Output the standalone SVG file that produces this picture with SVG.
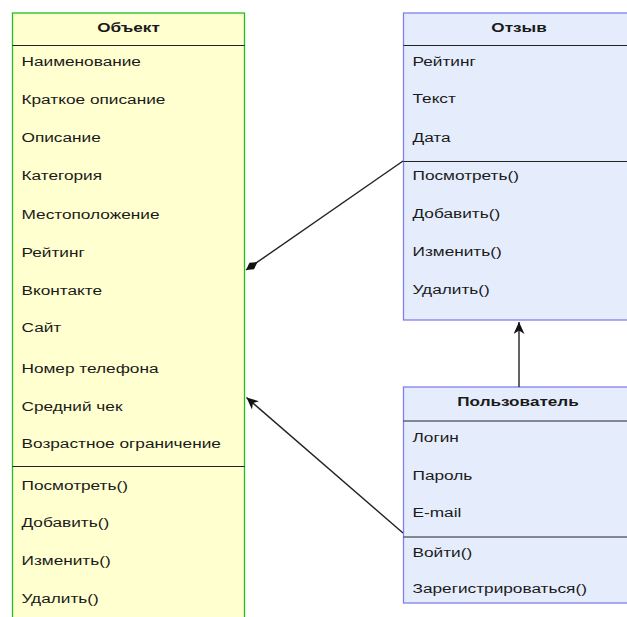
<svg xmlns="http://www.w3.org/2000/svg" width="627" height="617" viewBox="0 0 627 617">
<style>
.t{font-family:"Liberation Sans",Arial,sans-serif;font-size:12.5px;fill:#1a1a1a}
.h{font-weight:bold;text-anchor:middle}
.yl{fill:#FFFFCF;stroke:#1FBF1F;stroke-width:1.3}
.bl{fill:#E5EDFC;stroke:#8080EC;stroke-width:1.3}
.sep{stroke:#222;stroke-width:1.2}
.c{stroke:#222;stroke-width:1.4;fill:none}
</style>
<defs>
<marker id="arr" markerWidth="13" markerHeight="11" viewBox="0 0 13 11" refX="12" refY="5.5" orient="auto" markerUnits="userSpaceOnUse">
<path d="M0,0 L12,5.5 L0,11 L3.5,5.5 z" fill="#111"/>
</marker>
<marker id="dia" markerWidth="16" markerHeight="10" viewBox="0 0 16 10" refX="15" refY="5" orient="auto" markerUnits="userSpaceOnUse">
<path d="M1,5 L8,1 L15,5 L8,9 z" fill="#111"/>
</marker>
</defs>
<rect width="627" height="617" fill="#fff"/>
<g id="obj">
<rect class="yl" x="12.5" y="13" width="232" height="620"/>
<line class="sep" x1="12.5" y1="45.5" x2="244.5" y2="45.5"/>
<line class="sep" x1="12.5" y1="466.5" x2="244.5" y2="466.5"/>
<text class="t h" transform="matrix(1.37 0 0 1 128.5 31.7)">Объект</text>
<text class="t" transform="matrix(1.38 0 0 1 21.5 66)">Наименование</text>
<text class="t" transform="matrix(1.38 0 0 1 21.5 103.5)">Краткое описание</text>
<text class="t" transform="matrix(1.38 0 0 1 21.5 141.5)">Описание</text>
<text class="t" transform="matrix(1.38 0 0 1 21.5 180)">Категория</text>
<text class="t" transform="matrix(1.38 0 0 1 21.5 218.5)">Местоположение</text>
<text class="t" transform="matrix(1.38 0 0 1 21.5 256.5)">Рейтинг</text>
<text class="t" transform="matrix(1.38 0 0 1 21.5 294.5)">Вконтакте</text>
<text class="t" transform="matrix(1.38 0 0 1 21.5 332)">Сайт</text>
<text class="t" transform="matrix(1.38 0 0 1 21.5 372.5)">Номер телефона</text>
<text class="t" transform="matrix(1.38 0 0 1 21.5 410.5)">Средний чек</text>
<text class="t" transform="matrix(1.38 0 0 1 21.5 447.5)">Возрастное ограничение</text>
<text class="t" transform="matrix(1.38 0 0 1 21.5 489.5)">Посмотреть()</text>
<text class="t" transform="matrix(1.38 0 0 1 21.5 527)">Добавить()</text>
<text class="t" transform="matrix(1.38 0 0 1 21.5 565)">Изменить()</text>
<text class="t" transform="matrix(1.38 0 0 1 21.5 603)">Удалить()</text>
</g>
<g id="otz">
<rect class="bl" x="403.5" y="13" width="231" height="307"/>
<line class="sep" x1="403.5" y1="45.5" x2="634.5" y2="45.5"/>
<line class="sep" x1="403.5" y1="161.5" x2="634.5" y2="161.5"/>
<text class="t h" transform="matrix(1.37 0 0 1 519 32)">Отзыв</text>
<text class="t" transform="matrix(1.38 0 0 1 412.5 65.5)">Рейтинг</text>
<text class="t" transform="matrix(1.38 0 0 1 412.5 103)">Текст</text>
<text class="t" transform="matrix(1.38 0 0 1 412.5 141.5)">Дата</text>
<text class="t" transform="matrix(1.38 0 0 1 412.5 180)">Посмотреть()</text>
<text class="t" transform="matrix(1.38 0 0 1 412.5 218)">Добавить()</text>
<text class="t" transform="matrix(1.38 0 0 1 412.5 256)">Изменить()</text>
<text class="t" transform="matrix(1.38 0 0 1 412.5 294)">Удалить()</text>
</g>
<g id="pol">
<rect class="bl" x="403.5" y="387" width="231" height="216"/>
<line class="sep" x1="403.5" y1="421" x2="634.5" y2="421"/>
<line class="sep" x1="403.5" y1="537" x2="634.5" y2="537"/>
<text class="t h" transform="matrix(1.37 0 0 1 518 405.7)">Пользователь</text>
<text class="t" transform="matrix(1.38 0 0 1 412.5 442)">Логин</text>
<text class="t" transform="matrix(1.38 0 0 1 412.5 480)">Пароль</text>
<text class="t" transform="matrix(1.38 0 0 1 412.5 517)">E-mail</text>
<text class="t" transform="matrix(1.38 0 0 1 412.5 556.5)">Войти()</text>
<text class="t" transform="matrix(1.38 0 0 1 412.5 593)">Зарегистрироваться()</text>
</g>
<g id="connectors">
<line class="c" x1="403" y1="161" x2="246" y2="270" marker-end="url(#dia)"/>
<line class="c" x1="403" y1="533" x2="246.5" y2="397.5" marker-end="url(#arr)"/>
<line class="c" x1="519" y1="387" x2="519" y2="322" marker-end="url(#arr)"/>
</g>
</svg>
